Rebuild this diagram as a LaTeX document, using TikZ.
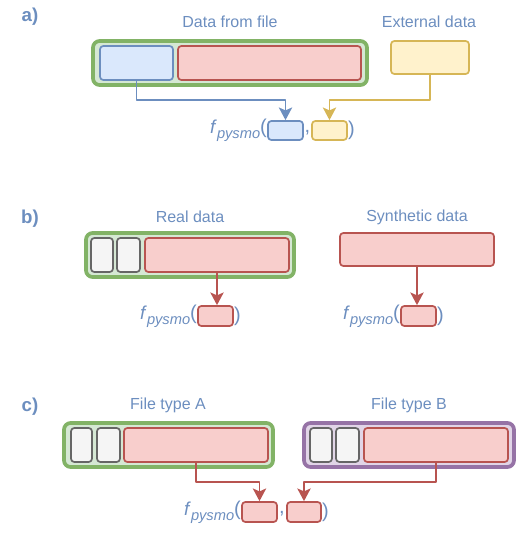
\documentclass[tikz,border=0pt]{standalone}
\usepackage{fontspec}
\setmainfont{Liberation Sans}
\usepackage{xcolor}
\usetikzlibrary{arrows.meta,positioning,fit,calc}

\definecolor{bluefill}{HTML}{DAE8FC}
\definecolor{blueline}{HTML}{6C8EBF}
\definecolor{redfill}{HTML}{F8CECC}
\definecolor{redline}{HTML}{B85450}
\definecolor{yellowfill}{HTML}{FFF2CC}
\definecolor{yellowline}{HTML}{D6B656}
\definecolor{greenfill}{HTML}{D5E8D4}
\definecolor{greenline}{HTML}{82B366}
\definecolor{purplefill}{HTML}{E1D5E7}
\definecolor{purpleline}{HTML}{9673A6}
\definecolor{grayfill}{HTML}{F5F5F5}
\definecolor{grayline}{HTML}{666666}
\definecolor{labelcol}{HTML}{6C8EBF}

\tikzset{
  box/.style={rounded corners=2.5pt,inner sep=0pt,line width=1.3pt},
  outerbox/.style={rounded corners=5pt,inner sep=0pt,line width=2.8pt},
  bluebox/.style={box,draw=blueline,fill=bluefill},
  redbox/.style={box,draw=redline,fill=redfill},
  yellowbox/.style={box,draw=yellowline,fill=yellowfill},
  graybox/.style={box,draw=grayline,fill=grayfill},
  greenbox/.style={outerbox,draw=greenline,fill=greenfill},
  purplebox/.style={outerbox,draw=purpleline,fill=purplefill},
  title/.style={text=labelcol,font=\fontsize{12}{14}\selectfont,inner sep=0pt},
  part/.style={text=labelcol,font=\bfseries\fontsize{14}{16}\selectfont,inner sep=0pt},
  paren/.style={text=labelcol,font=\fontsize{15}{17}\selectfont,inner sep=0pt},
  conn/.style={line width=1.3pt,-{Stealth[length=9.5pt,width=10pt,inset=2.2pt]}},
}
\newcommand{\fpy}{{\fontsize{14}{16}\selectfont\textit{f}}\raisebox{-3.5pt}{\fontsize{11}{13}\selectfont\textit{pysmo}}}

\begin{document}
\begin{tikzpicture}[x=0.75pt,y=-0.75pt,line cap=round,line join=round]
\useasboundingbox (0,0) rectangle (517,533);

%% a)
\node[part] (la) at (30,17) {a)};
\node[title] (ta) at (230,22) {Data from file};
\node[title] (te) at (429,22) {External data};
\node[greenbox,fit={(93,41) (367,85)}] (ga) {};
\node[bluebox,fit={(100,46) (173,80)}] (ba) {};
\node[redbox,fit={(178,46) (361,80)}] (ra) {};
\node[yellowbox,fit={(391,41) (469,74)}] (ya) {};
\node[bluebox,fit={(268,121) (303,140)}] (sa1) {};
\node[yellowbox,fit={(312,121) (347,140)}] (sa2) {};
\node[paren,anchor=east] (pa) at (sa1.west) {\fpy(};
\node[paren] (ca) at ($(sa1.east)!0.5!(sa2.west)+(0,2)$) {,};
\node[paren,anchor=west] (qa) at (sa2.east) {)};
\draw[conn,draw=blueline] (ba.south) -- (ba.south |- 0,100) -| (sa1.north);
\draw[conn,draw=yellowline] (ya.south) -- (ya.south |- 0,100) -| (sa2.north);

%% b)
\node[part] (lb) at (30,219) {b)};
\node[title] (tr) at (190,217) {Real data};
\node[title] (ts) at (417,217) {Synthetic data};
\node[greenbox,fit={(86,233) (294,277)}] (gb) {};
\node[graybox,fit={(91,238) (113,272)}] (gb1) {};
\node[graybox,fit={(117,238) (140,272)}] (gb2) {};
\node[redbox,fit={(145,238) (289,272)}] (rb) {};
\node[redbox,fit={(340,233) (494,266)}] (rs) {};
\node[redbox,fit={(198,306) (233,326)}] (sb1) {};
\node[redbox,fit={(401,306) (436,326)}] (sb2) {};
\node[paren,anchor=east] (pb1) at (sb1.west) {\fpy(};
\node[paren,anchor=west] (qb1) at (sb1.east) {)};
\node[paren,anchor=east] (pb2) at (sb2.west) {\fpy(};
\node[paren,anchor=west] (qb2) at (sb2.east) {)};
\draw[conn,draw=redline] (rb.south) -- (rb.south |- sb1.north);
\draw[conn,draw=redline] (rs.south) -- (rs.south |- sb2.north);

%% c)
\node[part] (lc) at (30,407) {c)};
\node[title] (tA) at (168,405) {File type A};
\node[title] (tB) at (409,405) {File type B};
\node[greenbox,fit={(64,423) (273,467)}] (gc) {};
\node[graybox,fit={(71,428) (92,462)}] (gc1) {};
\node[graybox,fit={(97,428) (120,462)}] (gc2) {};
\node[redbox,fit={(124,428) (268,462)}] (rc) {};
\node[purplebox,fit={(304,423) (514,467)}] (pc) {};
\node[graybox,fit={(310,428) (332,462)}] (pc1) {};
\node[graybox,fit={(336,428) (359,462)}] (pc2) {};
\node[redbox,fit={(364,428) (508,462)}] (rd) {};
\node[redbox,fit={(242,502) (277,522)}] (sc1) {};
\node[redbox,fit={(287,502) (321,522)}] (sc2) {};
\node[paren,anchor=east] (pc0) at (sc1.west) {\fpy(};
\node[paren] (cc) at ($(sc1.east)!0.5!(sc2.west)+(0,2)$) {,};
\node[paren,anchor=west] (qc) at (sc2.east) {)};
\draw[conn,draw=redline] (rc.south) -- (rc.south |- 0,482) -| (sc1.north);
\draw[conn,draw=redline] (rd.south) -- (rd.south |- 0,482) -| (sc2.north);
\end{tikzpicture}
\end{document}
